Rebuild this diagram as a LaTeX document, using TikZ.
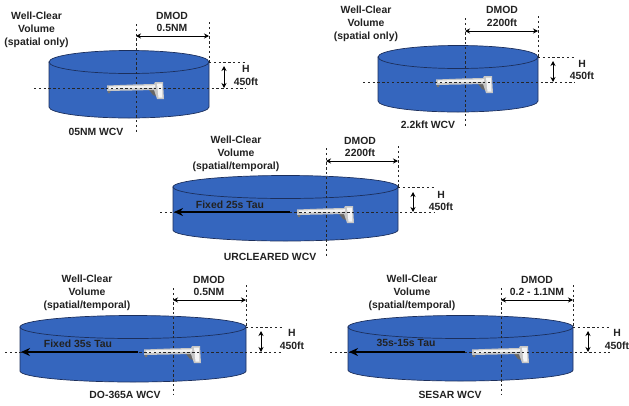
\documentclass[tikz,border=0pt]{standalone}
\usepackage{fontspec}
\setmainfont{Liberation Sans}
\usetikzlibrary{arrows.meta}
\definecolor{wcvblue}{HTML}{3566BE}
\definecolor{wcvline}{HTML}{1C2F5C}
\definecolor{txt}{HTML}{222222}
\tikzset{
  x=1pt,y=-1pt,
  disc/.style={fill=wcvblue,draw=wcvline,line width=0.7pt},
  guide/.style={draw=black!85,line width=0.6pt,dash pattern=on 2.4pt off 2.4pt},
  dim/.style={draw=black,line width=0.8pt,{Stealth[length=5pt,width=5pt]}-{Stealth[length=5pt,width=5pt]}},
  tauarrow/.style={draw=black,line width=1.5pt,-{Stealth[length=9pt,width=8pt]}},
  lbl/.style={font=\bfseries\fontsize{10.4}{12.5}\selectfont,text=txt,inner sep=0pt,align=center,anchor=center},
}
\newcommand\wcvdraw[9]{%
  \coordinate (#1l) at (#3,#5);
  \coordinate (#1r) at (#4,#5);
  \coordinate (#1m) at (#2,#7);
  \coordinate (#1tt) at (#2,#8);
  \coordinate (#1bb) at (#2,#9);
  \path[disc] (#3,#5) -- (#3,#5+#6) arc[start angle=180,end angle=360,x radius=(#4-#3)/2,y radius=-11] -- (#4,#5) -- cycle;
  \path[disc] ({(#3+#4)/2},#5) ellipse[x radius=(#4-#3)/2,y radius=11.5];
  \path[guide] (#1tt) -- (#1bb);
  \begin{scope}[shift={(#1m)}]
    \fill[black!55] (-29,1) -- (-25,1) -- (-26,5) -- (-28,5) -- cycle;
    \fill[black!60] (13,2) -- (20,1) -- (23,9) -- (17,7) -- cycle;
    \fill[gray!45] (-29,-2.5) -- (-3,-3.5) -- (18,-4) -- (19,-6) -- (27,-6) -- (28,11) -- (21,11) -- (18,2) -- (-4,2.5) -- (-29,3) -- cycle;
    \fill[gray!12] (-27,-1.5) -- (19,-2.8) -- (19,-0.3) -- (-27,1) -- cycle;
    \fill[gray!8] (21,-4.5) -- (26,-4.5) -- (26.5,9.5) -- (22.5,9.5) -- cycle;
  \end{scope}
}
\begin{document}
\begin{tikzpicture}
\useasboundingbox (0,0) rectangle (629,405);
\fill[white] (0,0) rectangle (629,405);
%% Panel 1
\wcvdraw{a}{136}{49}{209}{62}{45}{88}{24}{133}
\coordinate (aRt) at (209,22); \coordinate (aHe) at (246,62); \coordinate (aMe) at (246,88); \coordinate (aMs) at (34,88);
\path[guide] (aRt) -- (ar); \path[guide] (ar) -- (aHe); \path[guide] (aMs) -- (aMe);
\coordinate (aD1) at (136,36); \coordinate (aD2) at (209,36); \coordinate (aH1) at (224,66); \coordinate (aH2) at (224,88);
\path[dim] (aD1) -- (aD2); \path[dim] (aH1) -- (aH2);
\node[lbl] (at1) at (36.5,29.5) {Well-Clear\\[0.5pt]Volume\\[0.5pt](spatial only)};
\node[lbl] (at2) at (172,22) {DMOD\\0.5NM};
\node[lbl] (at3) at (246,75.5) {H\\450ft};
\node[lbl] (at4) at (96,132) {05NM WCV};
%% Panel 2
\wcvdraw{b}{465}{378}{538}{57}{44}{82}{18}{126}
\coordinate (bRt) at (538,16); \coordinate (bHe) at (575,57); \coordinate (bMe) at (575,82); \coordinate (bMs) at (363,82);
\path[guide] (bRt) -- (br); \path[guide] (br) -- (bHe); \path[guide] (bMs) -- (bMe);
\coordinate (bD1) at (465,31); \coordinate (bD2) at (538,31); \coordinate (bH1) at (553,61); \coordinate (bH2) at (553,82);
\path[dim] (bD1) -- (bD2); \path[dim] (bH1) -- (bH2);
\node[lbl] (bt1) at (366,23.5) {Well-Clear\\[0.5pt]Volume\\[0.5pt](spatial only)};
\node[lbl] (bt2) at (502,16.5) {DMOD\\2200ft};
\node[lbl] (bt3) at (582,70) {H\\450ft};
\node[lbl] (bt4) at (428,125) {2.2kft WCV};
%% Panel 3
\wcvdraw{c}{326}{173}{398}{187}{43}{212}{148}{257}
\coordinate (cRt) at (398,146); \coordinate (cHe) at (435,187); \coordinate (cMe) at (435,212); \coordinate (cMs) at (160,212);
\path[guide] (cRt) -- (cr); \path[guide] (cr) -- (cHe); \path[guide] (cMs) -- (cMe);
\coordinate (cD1) at (326,161); \coordinate (cD2) at (398,161); \coordinate (cH1) at (413,192); \coordinate (cH2) at (413,212);
\path[dim] (cD1) -- (cD2); \path[dim] (cH1) -- (cH2);
\coordinate (cA1) at (290,212); \coordinate (cA2) at (174,212);
\path[tauarrow] (cA1) -- (cA2);
\node[lbl] (ct1) at (236,154) {Well-Clear\\[0.5pt]Volume\\[0.5pt](spatial/temporal)};
\node[lbl] (ct2) at (360,147) {DMOD\\2200ft};
\node[lbl] (ct3) at (441,201) {H\\450ft};
\node[lbl] (ct4) at (270,257) {URCLEARED WCV};
\node[lbl] (ct5) at (230,205) {Fixed 25s Tau};
%% Panel 4
\wcvdraw{d}{173}{20}{246}{327}{44}{352}{288}{395}
\coordinate (dRt) at (246,285); \coordinate (dHe) at (282,327); \coordinate (dMe) at (282,352); \coordinate (dMs) at (5,352);
\path[guide] (dRt) -- (dr); \path[guide] (dr) -- (dHe); \path[guide] (dMs) -- (dMe);
\coordinate (dD1) at (173,300); \coordinate (dD2) at (246,300); \coordinate (dH1) at (261,331); \coordinate (dH2) at (261,352);
\path[dim] (dD1) -- (dD2); \path[dim] (dH1) -- (dH2);
\coordinate (dA1) at (138,352); \coordinate (dA2) at (21,352);
\path[tauarrow] (dA1) -- (dA2);
\node[lbl] (dt1) at (87,293) {Well-Clear\\[0.5pt]Volume\\[0.5pt](spatial/temporal)};
\node[lbl] (dt2) at (209,286) {DMOD\\0.5NM};
\node[lbl] (dt3) at (292,339.5) {H\\450ft};
\node[lbl] (dt4) at (125,395) {DO-365A WCV};
\node[lbl] (dt5) at (78,344) {Fixed 35s Tau};
%% Panel 5
\wcvdraw{e}{501}{348}{573}{327}{43}{352}{288}{395}
\coordinate (eRt) at (573,285); \coordinate (eHe) at (610,327); \coordinate (eMe) at (610,352); \coordinate (eMs) at (330,352);
\path[guide] (eRt) -- (er); \path[guide] (er) -- (eHe); \path[guide] (eMs) -- (eMe);
\coordinate (eD1) at (501,300); \coordinate (eD2) at (573,300); \coordinate (eH1) at (588,331); \coordinate (eH2) at (588,352);
\path[dim] (eD1) -- (eD2); \path[dim] (eH1) -- (eH2);
\coordinate (eA1) at (465,352); \coordinate (eA2) at (349,352);
\path[tauarrow] (eA1) -- (eA2);
\node[lbl] (et1) at (412,293) {Well-Clear\\[0.5pt]Volume\\[0.5pt](spatial/temporal)};
\node[lbl] (et2) at (537,286) {DMOD\\0.2 - 1.1NM};
\node[lbl] (et3) at (617,339.5) {H\\450ft};
\node[lbl] (et4) at (450,395) {SESAR WCV};
\node[lbl] (et5) at (406,343) {35s-15s Tau};
\end{tikzpicture}
\end{document}
